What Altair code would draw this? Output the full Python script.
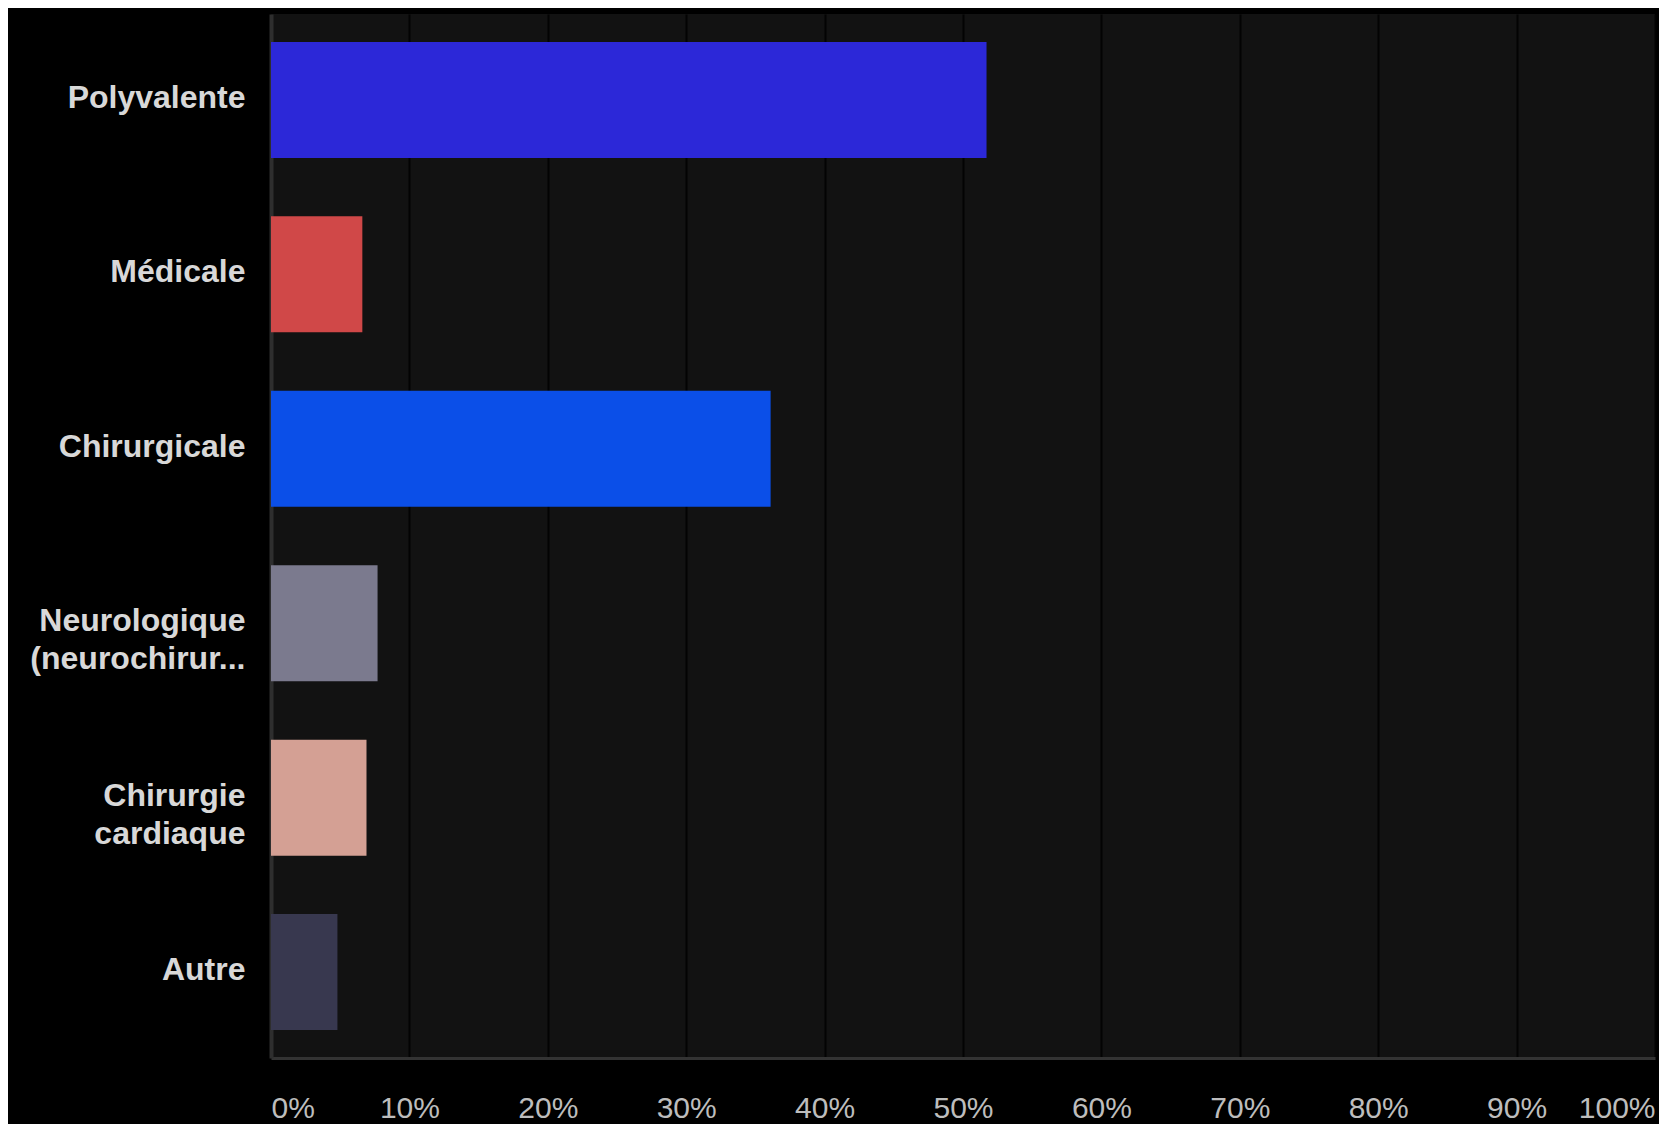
import altair as alt
import pandas as pd

categories = [
    "Polyvalente",
    "Médicale",
    "Chirurgicale",
    "Neurologique\n(neurochirur...",
    "Chirurgie\ncardiaque",
    "Autre",
]
values = [51.7, 6.6, 36.1, 7.7, 6.9, 4.8]
colors = ["#2c28d8", "#d04848", "#0b4fe8", "#7b7a8e", "#d4a094", "#38384f"]
tick_values = [0, 10, 20, 30, 40, 50, 60, 70, 80, 90, 100]

df = pd.DataFrame({"categorie": categories, "pourcentage": values})

chart = (
    alt.Chart(df)
    .mark_bar()
    .encode(
        y=alt.Y(
            "categorie:N",
            sort=categories,
            scale=alt.Scale(paddingInner=0.335, paddingOuter=0.16),
            axis=alt.Axis(
                title=None,
                labelExpr="split(datum.label, '\\n')",
                labelFont="Liberation Sans",
                labelFontWeight="bold",
                labelFontSize=32,
                labelColor="#d8d8d8",
                labelLineHeight=38,
                labelPadding=26,
                labelOffset=-2,
                labelLimit=400,
                ticks=False,
                tickSize=0,
                grid=False,
                domainColor="#2e2e2e",
                domainWidth=4,
            ),
        ),
        x=alt.X(
            "pourcentage:Q",
            scale=alt.Scale(domain=[0, 100], nice=False),
            axis=alt.Axis(
                title=None,
                values=tick_values,
                labelExpr="datum.value + '%'",
                labelFont="Liberation Sans",
                labelFontSize=30,
                labelColor="#bdbdbd",
                labelFlush=True,
                labelPadding=35,
                ticks=False,
                tickSize=0,
                grid=True,
                gridColor="#030303",
                gridWidth=2,
                domainColor="#333333",
                domainWidth=3,
            ),
        ),
        color=alt.Color(
            "categorie:N",
            scale=alt.Scale(domain=categories, range=colors),
            legend=None,
        ),
    )
    .properties(
        width=1384,
        height=1044,
        autosize=alt.AutoSizeParams(type="none"),
        padding={"left": 263, "top": 6, "right": 4, "bottom": 66},
        background="#000000",
    )
    .configure_view(fill="#121212", stroke=None)
)

chart.save("out.html", embed_options={"renderer": "svg", "actions": False})
